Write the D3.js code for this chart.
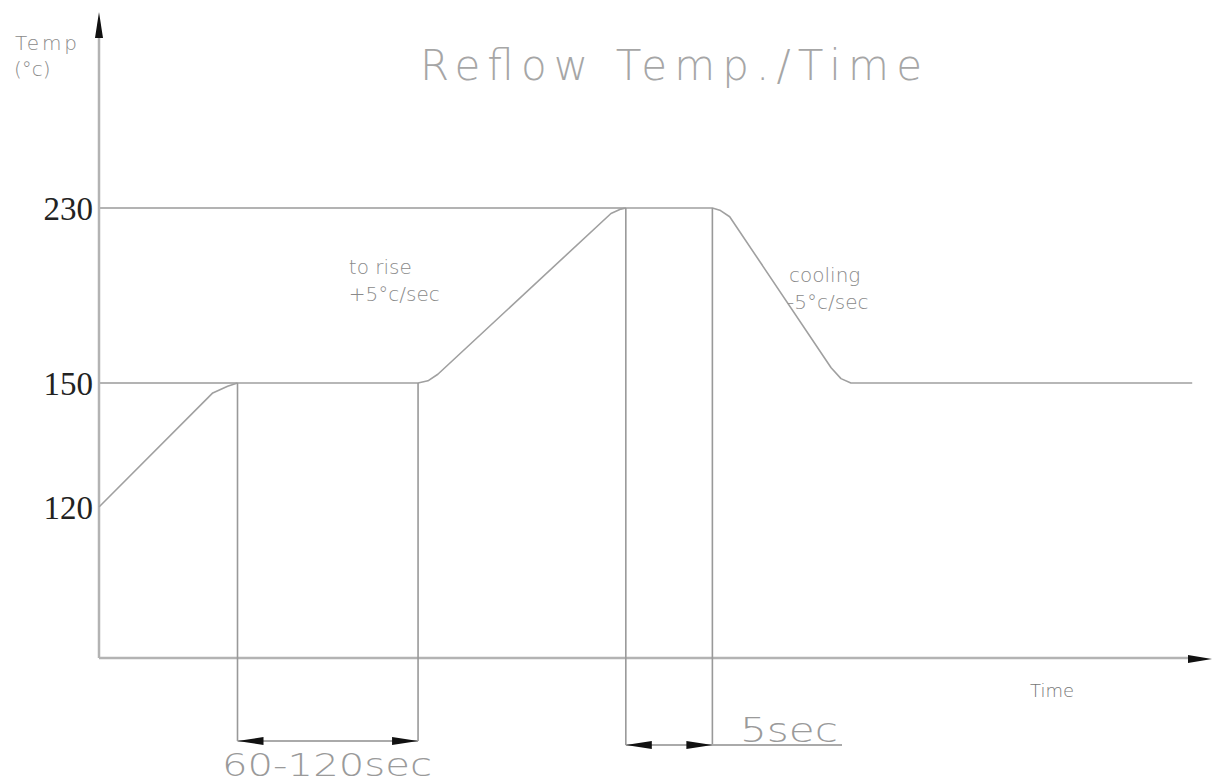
<!DOCTYPE html>
<html>
<head>
<meta charset="utf-8">
<script src="https://cdn.jsdelivr.net/npm/d3@7"></script>
<style>
  body { margin: 0; background: #fff; }
  .cad { font-family: "DejaVu Sans", sans-serif; font-weight: 200; }
</style>
</head>
<body>
<div id="chart"></div>
<script>
// reflow profile, schematic time units vs temperature
let profile_time = [0, 46, 52, 56, 129, 133, 137, 207, 211, 213, 248, 251, 255, 296, 300, 304, 442]
let profile_temp = [120, 147.6, 149.2, 150, 150, 151, 154, 227.5, 229.5, 230, 230, 229, 226, 157, 152, 150, 150]

let temp_ticks = [120, 150, 230]
let marker_times = [56, 129, 213, 248]
let spans = [
  {from: 56, to: 129, label: "60-120sec"},
  {from: 213, to: 248, label: "5sec"}
]
let notes = [
  {t: 101, temp: 200, lines: ["to rise", "+5°c/sec"]},
  {t: 279, temp: 196, lines: ["cooling", "-5°c/sec"]}
]

let w = 1215, h = 784

// the drawing is not to scale, so the temperature scale is piecewise
let y = d3.scaleLinear().domain([0, 120, 150, 230, 300]).range([658, 507, 383, 208, 12])
let x = d3.scaleLinear().domain([0, 450]).range([99, 1212])

let svg = d3.select("#chart").append("svg")
  .attr("width", w)
  .attr("height", h)

let axisColor = "#b3b3b3"
let lineColor = "#a0a0a0"

function arrow(g, tipX, tipY, dir, len, half) {
  // dir: "up", "right", "left"
  let pts
  if (dir == "up") pts = [[tipX, tipY], [tipX - half, tipY + len], [tipX + half, tipY + len]]
  if (dir == "right") pts = [[tipX, tipY], [tipX - len, tipY - half], [tipX - len, tipY + half]]
  if (dir == "left") pts = [[tipX, tipY], [tipX + len, tipY - half], [tipX + len, tipY + half]]
  g.append("polygon").attr("points", pts.map(p => p.join(",")).join(" ")).attr("fill", "#111")
}

// axes
svg.append("line")
  .attr("x1", x(0)).attr("x2", x(0))
  .attr("y1", y(0)).attr("y2", y(300) + 20)
  .attr("stroke", axisColor).attr("stroke-width", 2.5)
arrow(svg, x(0), y(300), "up", 26, 4)

svg.append("line")
  .attr("x1", x(0)).attr("x2", x(450) - 20)
  .attr("y1", y(0)).attr("y2", y(0))
  .attr("stroke", axisColor).attr("stroke-width", 2.5)
arrow(svg, x(450), y(0) + 1, "right", 24, 4)

// tick labels
let yAxis = d3.axisLeft(y).tickValues(temp_ticks).tickSize(0).tickPadding(6)
let ya = svg.append("g").attr("transform", `translate(${x(0)},0)`).call(yAxis)
ya.select(".domain").remove()
ya.selectAll("text")
  .attr("font-family", "'Liberation Serif', serif")
  .attr("font-size", 33)
  .attr("fill", "#222")
  .attr("dy", "0.36em")

// reference lines at 230 and 150
svg.append("line")
  .attr("x1", x(0)).attr("x2", x(213))
  .attr("y1", y(230)).attr("y2", y(230))
  .attr("stroke", axisColor).attr("stroke-width", 2)
svg.append("line")
  .attr("x1", x(0)).attr("x2", x(56))
  .attr("y1", y(150)).attr("y2", y(150))
  .attr("stroke", axisColor).attr("stroke-width", 2)

// profile
let pdata = profile_time.map((t, i) => [t, profile_temp[i]])
svg.append("path")
  .datum(pdata)
  .attr("d", d3.line().x(d => x(d[0])).y(d => y(d[1])))
  .attr("fill", "none")
  .attr("stroke", lineColor)
  .attr("stroke-width", 1.6)
  .attr("stroke-linejoin", "round")

// vertical markers down to the dimension lines
let dimY = [y(0) + 83, y(0) + 87]
svg.selectAll(".marker")
  .data(marker_times)
  .enter()
  .append("line")
  .attr("x1", d => x(d)).attr("x2", d => x(d))
  .attr("y1", d => y(profile_temp[profile_time.indexOf(d)]))
  .attr("y2", (d, i) => dimY[i < 2 ? 0 : 1])
  .attr("stroke", "#999")
  .attr("stroke-width", 1.6)

// dimension lines
spans.forEach((s, i) => {
  let yy = dimY[i]
  let x2 = i == 1 ? 842 : x(s.to)
  svg.append("line")
    .attr("x1", x(s.from)).attr("x2", x2)
    .attr("y1", yy).attr("y2", yy)
    .attr("stroke", "#aaa").attr("stroke-width", 2)
  arrow(svg, x(s.from), yy, "left", 26, 4)
  arrow(svg, x(s.to), yy, "right", 26, 4)
})

svg.append("text").attr("class", "cad")
  .attr("x", 222).attr("y", 776)
  .attr("font-size", 32).attr("fill", "#9a9a9a")
  .attr("textLength", 210).attr("lengthAdjust", "spacingAndGlyphs")
  .text(spans[0].label)
svg.append("text").attr("class", "cad")
  .attr("x", 740).attr("y", 742)
  .attr("font-size", 34).attr("fill", "#9a9a9a")
  .attr("textLength", 98).attr("lengthAdjust", "spacingAndGlyphs")
  .text(spans[1].label)

// notes
notes.forEach(n => {
  let t = svg.append("text").attr("class", "cad")
    .attr("x", x(n.t)).attr("y", y(n.temp))
    .attr("font-size", 20).attr("fill", "#8a8a8a")
  n.lines.forEach((l, i) => {
    t.append("tspan").attr("x", x(n.t) - (i == 1 && l[0] == "-" ? 2 : 0)).attr("dy", i == 0 ? 0 : 27).text(l)
  })
})

// title and axis names
svg.append("text").attr("class", "cad")
  .attr("x", 420).attr("y", 80)
  .attr("font-size", 42).attr("fill", "#a6a6a6")
  .attr("textLength", 502).attr("lengthAdjust", "spacing")
  .text("Reflow Temp./Time")

svg.append("text").attr("class", "cad")
  .attr("x", 15).attr("y", 50)
  .attr("font-size", 20).attr("fill", "#8a8a8a")
  .attr("textLength", 62).attr("lengthAdjust", "spacing")
  .text("Temp")
svg.append("text").attr("class", "cad")
  .attr("x", 14).attr("y", 76)
  .attr("font-size", 20).attr("fill", "#8a8a8a")
  .text("(°c)")

svg.append("text").attr("class", "cad")
  .attr("x", 1030).attr("y", 697)
  .attr("font-size", 18).attr("fill", "#777")
  .text("Time")
</script>
</body>
</html>
